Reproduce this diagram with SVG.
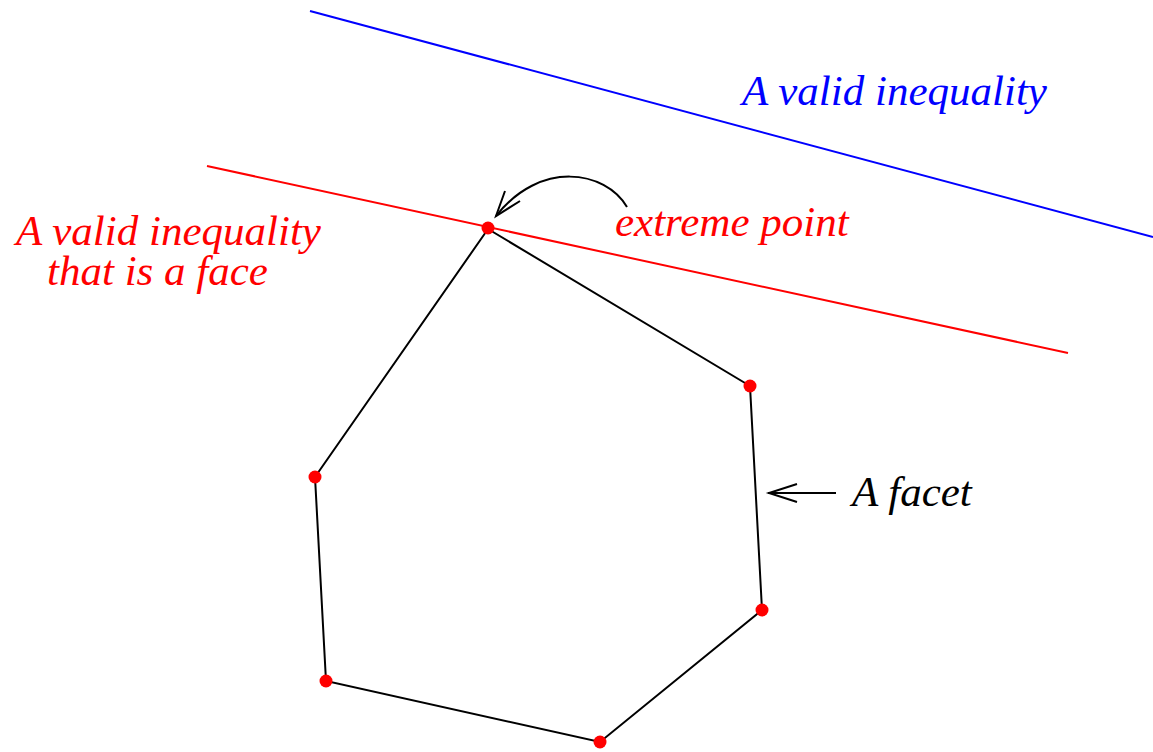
<svg xmlns="http://www.w3.org/2000/svg" width="1153" height="752" viewBox="0 0 1153 752">
<style>
text{font-family:"Liberation Serif","Times New Roman",serif;font-style:italic;font-size:43px}
.r{fill:#ff0000}.b{fill:#0000ff}.k{fill:#000}
.edge{stroke:#000;stroke-width:2;fill:none}
.pt{fill:#ff0000}
</style>
<rect width="1153" height="752" fill="#fff"/>
<g id="lines">
<line x1="310" y1="11" x2="1153" y2="237" stroke="#0000ff" stroke-width="2"/>
<line x1="207" y1="166" x2="1068" y2="353" stroke="#ff0000" stroke-width="2"/>
</g>
<g id="connectors">
<polygon class="edge" points="488,229 750,386 762,610 600,742 326,681 315,477"/>
<path class="edge" d="M627,207 C605,170 540,160 496,216"/>
<polyline class="edge" points="505,191 496,216 520,201"/>
<line class="edge" x1="768" y1="493" x2="836" y2="493"/>
<polyline class="edge" points="797,484 769,493 797,502"/>
</g>
<g id="vertices">
<circle class="pt" cx="488" cy="228" r="6.5"/>
<circle class="pt" cx="750" cy="386" r="6.5"/>
<circle class="pt" cx="762" cy="610" r="6.5"/>
<circle class="pt" cx="600" cy="742" r="6.5"/>
<circle class="pt" cx="326" cy="681" r="6.5"/>
<circle class="pt" cx="315" cy="477" r="6.5"/>
</g>
<g id="labels">
<text class="b" x="742" y="105">A valid inequality</text>
<text class="r"><tspan x="16" y="245">A valid inequality</tspan><tspan x="47" y="285">that is a face</tspan></text>
<text class="r" x="615" y="236">extreme point</text>
<text class="k" x="852" y="506">A facet</text>
</g>
</svg>
